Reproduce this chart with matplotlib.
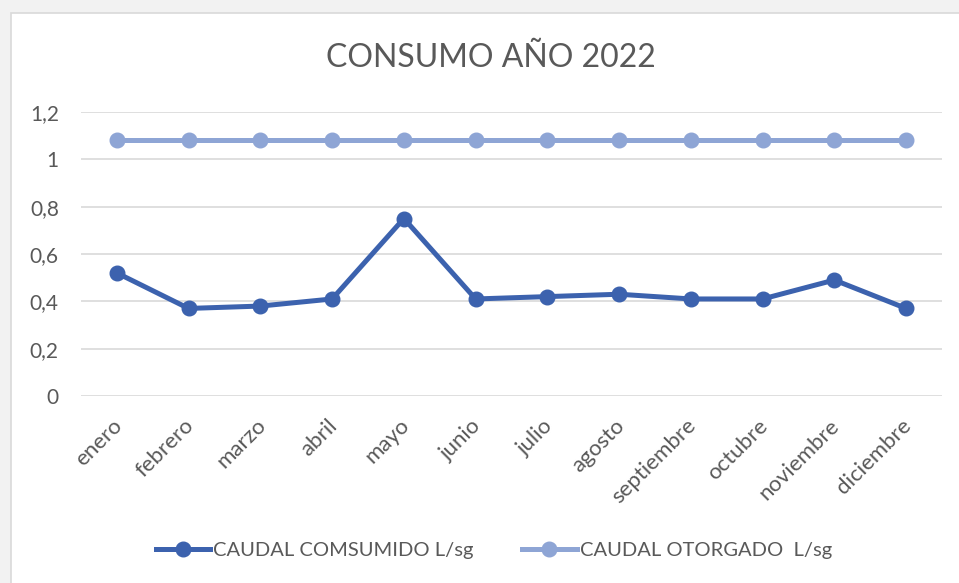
import matplotlib
matplotlib.use("Agg")
import matplotlib.pyplot as plt
import matplotlib.transforms as mtransforms
from matplotlib.ticker import FixedLocator, FuncFormatter
from matplotlib.patches import Rectangle

meses = ["enero", "febrero", "marzo", "abril", "mayo", "junio", "julio",
         "agosto", "septiembre", "octubre", "noviembre", "diciembre"]
consumido = [0.52, 0.37, 0.38, 0.41, 0.75, 0.41, 0.42, 0.43, 0.41, 0.41, 0.49, 0.37]
otorgado = [1.08] * 12
yticks = [0, 0.2, 0.4, 0.6, 0.8, 1.0, 1.2]

plt.rcParams['font.family'] = ['Lato', 'DejaVu Sans']
txt = '#595959'

fig = plt.figure(figsize=(9.59, 5.83), dpi=100)
fig.patch.set_facecolor('#f2f2f2')
W, H = 959, 583
fig.patches.append(Rectangle((11 / W, -0.01), 1.02, (583 - 13) / H + 0.01,
                             transform=fig.transFigure, facecolor='white',
                             edgecolor='#d9d9d9', linewidth=1.2, zorder=-10))

ax = fig.add_axes([81 / W, 1 - 396 / H, (942 - 81) / W, (396 - 112) / H])
ax.set_zorder(1)
ax.set_facecolor('none')
x = list(range(len(meses)))
l1, = ax.plot(x, consumido, color='#3C62AE', linewidth=3.6, marker='o',
              markersize=10.5, label='CAUDAL COMSUMIDO L/sg', zorder=3)
l2, = ax.plot(x, otorgado, color='#8EA5D5', linewidth=3.6, marker='o',
              markersize=10.5, label='CAUDAL OTORGADO  L/sg', zorder=3)
ax.set_xlim(-0.5, 11.5)
ax.set_ylim(0, 1.2)
ax.yaxis.set_major_locator(FixedLocator(yticks))
ax.yaxis.set_major_formatter(FuncFormatter(lambda v, p: ('%g' % round(v, 1)).replace('.', ',')))
ax.grid(axis='y', color='#d9d9d9', linewidth=1.2)
ax.set_axisbelow(True)
for s in ax.spines.values():
    s.set_visible(False)
ax.tick_params(axis='both', length=0, labelsize=15, labelcolor=txt)
ax.tick_params(axis='y', pad=16)
ax.set_xticks(x)
ax.set_xticklabels(meses, rotation=45, ha='right', rotation_mode='anchor')
ax.tick_params(axis='x', pad=14, labelsize=16)
offset = mtransforms.ScaledTranslation(-5 / 100, 0, fig.dpi_scale_trans)
for lab in ax.get_xticklabels():
    lab.set_transform(lab.get_transform() + offset)

fig.text(491 / W, 1 - 58 / H, 'CONSUMO AÑO 2022', ha='center', va='center',
         fontsize=23, color=txt)

leg = fig.legend(handles=[l1, l2], loc='center', bbox_to_anchor=(494 / W, 1 - 550 / H),
                 ncol=2, frameon=False, fontsize=14.5, handlelength=2.7,
                 columnspacing=2.4, handletextpad=0.15, labelcolor=txt)

fig.savefig('out.png', dpi=100, facecolor=fig.get_facecolor())
